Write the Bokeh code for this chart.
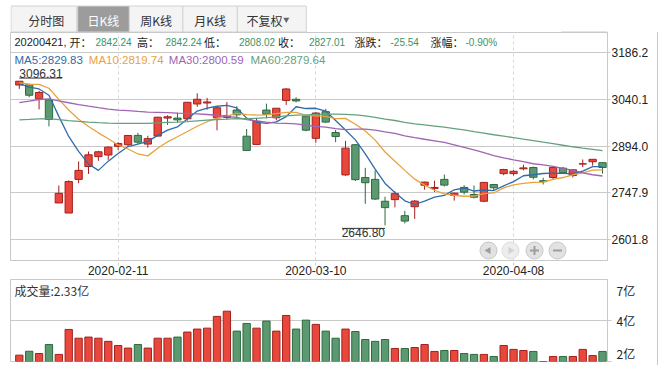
import numpy as np
import pandas as pd
from bokeh.plotting import figure
from bokeh.layouts import column
from bokeh.models import Range1d, FixedTicker, Label, ColumnDataSource
from bokeh.core.properties import value
from bokeh.embed import file_html
from bokeh.resources import INLINE

# ---------------- data ----------------
dates = ["2020-01-20", "2020-01-21", "2020-01-22", "2020-01-23",
         "2020-02-03", "2020-02-04", "2020-02-05", "2020-02-06", "2020-02-07",
         "2020-02-10", "2020-02-11", "2020-02-12", "2020-02-13", "2020-02-14",
         "2020-02-17", "2020-02-18", "2020-02-19", "2020-02-20", "2020-02-21",
         "2020-02-24", "2020-02-25", "2020-02-26", "2020-02-27", "2020-02-28",
         "2020-03-02", "2020-03-03", "2020-03-04", "2020-03-05", "2020-03-06",
         "2020-03-09", "2020-03-10", "2020-03-11", "2020-03-12", "2020-03-13",
         "2020-03-16", "2020-03-17", "2020-03-18", "2020-03-19", "2020-03-20",
         "2020-03-23", "2020-03-24", "2020-03-25", "2020-03-26", "2020-03-27",
         "2020-03-30", "2020-03-31", "2020-04-01", "2020-04-02", "2020-04-03",
         "2020-04-07", "2020-04-08", "2020-04-09", "2020-04-10",
         "2020-04-13", "2020-04-14", "2020-04-15", "2020-04-16", "2020-04-17",
         "2020-04-20", "2020-04-21"]

opens = [3084.0, 3085.0, 3041.0, 3038.0, 2716.70, 2685.27, 2790.0, 2830.0, 2861.0, 2866.0,
         2893.0, 2898.0, 2927.0, 2900.0, 2925.0, 2981.0, 2981.0, 2979.0, 3025.0, 3028.0,
         2982.0, 2983.0, 3006.0, 2924.6, 2899.0, 3006.0, 2982.0, 3036.0, 3039.5, 2987.0,
         2918.0, 3001.0, 2936.0, 2804.0, 2898.0, 2796.0, 2790.0, 2722.0, 2727.0, 2677.0,
         2705.0, 2772.0, 2762.0, 2790.0, 2740.0, 2765.0, 2743.0, 2722.0, 2774.0, 2808.0,
         2808.0, 2823.0, 2827.0, 2786.0, 2796.0, 2825.0, 2802.0, 2838.0, 2845.0, 2842.24]
highs = [3096.31, 3088.0, 3066.0, 3040.0, 2771.0, 2787.0, 2846.0, 2877.0, 2879.0, 2893.0,
         2906.0, 2927.5, 2935.0, 2926.0, 2985.0, 2990.0, 2998.0, 3031.0, 3058.0, 3044.0,
         3016.0, 3031.0, 3018.0, 2947.0, 2982.0, 3026.0, 3012.5, 3074.5, 3046.0, 2989.5,
         3000.0, 3010.0, 2944.0, 2910.0, 2900.0, 2826.0, 2818.0, 2736.0, 2753.0, 2692.0,
         2726.0, 2783.0, 2786.0, 2805.0, 2749.0, 2772.0, 2771.0, 2782.0, 2776.0, 2823.0,
         2819.0, 2836.0, 2830.0, 2795.0, 2827.5, 2829.0, 2821.0, 2852.0, 2853.0, 2842.24]
lows = [3072.0, 3046.0, 3008.0, 2955.34, 2716.70, 2685.27, 2778.0, 2807.0, 2848.0, 2851.0,
        2882.0, 2894.0, 2900.0, 2889.0, 2924.0, 2960.0, 2967.0, 2973.0, 3016.0, 3007.0,
        2943.0, 2976.0, 2978.0, 2878.0, 2897.0, 2980.0, 2974.0, 3022.0, 3030.0, 2940.0,
        2904.0, 2966.0, 2906.0, 2801.0, 2785.0, 2714.0, 2726.0, 2646.80, 2703.0, 2653.0,
        2667.0, 2758.0, 2751.0, 2768.0, 2724.0, 2743.0, 2731.0, 2719.0, 2754.0, 2803.0,
        2802.0, 2818.0, 2790.0, 2774.0, 2790.0, 2807.0, 2796.0, 2828.0, 2833.0, 2808.02]
closes = [3095.79, 3052.14, 3060.75, 2976.53, 2746.61, 2783.29, 2818.09, 2866.51, 2875.96, 2890.49,
          2901.67, 2926.90, 2906.07, 2917.01, 2983.62, 2984.97, 2975.40, 3030.15, 3039.67, 3031.23,
          3013.05, 2987.93, 2991.33, 2880.30, 2970.93, 2992.90, 3011.67, 3071.68, 3034.51, 2943.29,
          2996.76, 2968.52, 2923.49, 2887.43, 2789.25, 2779.64, 2728.76, 2702.13, 2745.62, 2660.17,
          2722.44, 2781.59, 2764.91, 2772.20, 2747.21, 2750.30, 2734.52, 2780.64, 2763.99, 2820.76,
          2815.37, 2825.90, 2796.63, 2783.05, 2827.28, 2811.17, 2819.94, 2838.49, 2852.55, 2827.01]
# volume, 亿
volumes = [2.13, 2.34, 2.22, 2.70, 2.17, 3.51, 3.04, 3.10, 3.04, 2.87,
           2.65, 2.51, 2.70, 2.51, 3.04, 3.04, 3.10, 3.37, 3.53, 3.58,
           4.21, 4.49, 3.42, 3.83, 3.58, 3.96, 3.42, 4.26, 3.53, 4.01,
           3.78, 3.42, 3.04, 3.53, 3.40, 2.97, 2.87, 2.97, 2.49, 2.49,
           2.54, 2.70, 2.33, 2.38, 2.38, 2.22, 2.17, 2.17, 2.06, 2.65,
           2.44, 2.38, 2.33, 1.79, 2.06, 2.06, 2.06, 2.44, 2.11, 2.33]
# closes of the 59 sessions before the first shown day (2019-10-28 .. 2020-01-17), for the moving averages
prior_closes = [2980.05, 2954.18, 2939.32, 2929.06,
                2958.20, 2975.49, 2991.56, 2978.60, 2978.71, 2964.18, 2909.97, 2914.82, 2905.24, 2909.87,
                2891.34, 2909.20, 2933.99, 2911.05, 2903.64, 2885.29, 2906.17, 2907.06, 2903.19, 2889.69, 2871.98,
                2875.81, 2884.70, 2878.12, 2899.47, 2912.01, 2914.48, 2917.32, 2924.42, 2915.70, 2967.68,
                2984.39, 3022.42, 3017.04, 3017.07, 3004.94, 2962.75, 2982.68, 2981.88, 3007.35, 3005.04,
                3040.02, 3050.12,
                3085.20, 3083.79, 3083.41, 3104.80, 3066.89, 3094.88, 3092.29, 3115.57, 3106.82, 3090.04,
                3074.08, 3075.50]
ma_periods = [5, 10, 30, 60]

price_ticks = [2601.8, 2747.9, 2894.0, 3040.1, 3186.2]
price_tick_labels = ["2601.8", "2747.9", "2894.0", "3040.1", "3186.2"]
date_tick_labels = ["2020-02-11", "2020-03-10", "2020-04-08"]
vol_tick_labels = ["7亿", "4亿", "2亿"]
vol_grid_value = 4.0
tab_labels = ["分时图", "日K线", "周K线", "月K线", "不复权"]

# ---------------- styles / layout constants ----------------
RED, RED_D = "#e8483c", "#a3201e"
GREEN, GREEN_D = "#5b9970", "#2e6a3f"
GRID = "#c9c9c9"
TXT = "#222222"
VALG = "#3b9463"
MA_COLORS = ["#2f6ca8", "#e9a23b", "#a064b4", "#64a27f"]
CJK = "Noto Sans CJK SC"
LAT = "Liberation Sans"

W = 658
FL, FR = 10, 607          # frame left/right (page px)
PT, PB = 32, 260          # price frame top/bottom (page px)
VT, VB = 279, 361         # volume frame top/bottom (page px)
PX_PER_DAY = 9.885
X0 = -(18.8 - FL) / PX_PER_DAY
X1 = X0 + (FR - FL) / PX_PER_DAY
YT, YB = 3247.6, 2537.4
VL = min(volumes)
VH = 6.19
PRICE_PER_PX = (YT - YB) / (PB - PT)


def px_x(px):
    return X0 + (px - FL) / PX_PER_DAY


def py_price(py):
    return YT - (py - PT) * PRICE_PER_PX


def py_vol(py):
    return VH - (py - VT) * (VH - VL) / (VB - VT)


# ---------------- derived ----------------
n = len(dates)
x = np.arange(n)
o = np.array(opens); h = np.array(highs); l = np.array(lows); c = np.array(closes)
up = c >= o
allc = pd.Series(prior_closes + closes)
mas = [allc.rolling(k).mean().iloc[len(prior_closes):].to_numpy() for k in ma_periods]

src = ColumnDataSource(dict(
    x=x, top=np.maximum(o, c), bottom=np.minimum(o, c), high=h, low=l,
    fill=[RED if u else GREEN for u in up], line=[RED_D if u else GREEN_D for u in up],
    vol=volumes))

xr = Range1d(X0, X1)

# ---------------- tabs ----------------
tabs = figure(width=W, height=PT, x_range=Range1d(0, W), y_range=Range1d(0, PT),
              toolbar_location=None, output_backend="svg",
              x_axis_location=None, y_axis_location=None, min_border=0)
tabs.xgrid.visible = False
tabs.ygrid.visible = False
tabs.outline_line_color = None
tab_l = [0.5, 74, 131, 190, 250]
tab_r = [73, 131, 190, 250, 326]
tabs.quad(left=tab_l, right=tab_r, bottom=0.5, top=PT - 5.5,
          fill_color=["#f4f4f4", "#9c9c9c", "#f4f4f4", "#f4f4f4", "#f4f4f4"], line_color="#d2d2d2")
tab_cx = [39.5, 102.5, 160.5, 220, 280]
tabs.text(x=tab_cx, y=[PT - 19.5] * 5, text=tab_labels, text_align="center",
          text_baseline="middle", text_font=value(CJK), text_font_size="12px",
          text_color=["#333333", "#ffffff", "#333333", "#333333", "#333333"])
tabs.scatter(x=[304], y=[PT - 19], marker="inverted_triangle", size=6, fill_color="#666666", line_color=None)
tabs.segment(x0=[FR], y0=[0.5], x1=[W], y1=[0.5], line_color=GRID)

# ---------------- price ----------------
p = figure(width=W, height=VT - PT, x_range=xr, y_range=Range1d(YB, YT),
           toolbar_location=None, output_backend="svg",
           x_axis_location="below", y_axis_location="right",
           min_border_left=FL, min_border_right=W - FR, min_border_top=0, min_border_bottom=VT - PB)
p.outline_line_color = GRID
p.styles = {"border-right": "1px solid #c9c9c9"}

ya = p.yaxis[0]
ya.ticker = FixedTicker(ticks=price_ticks)
ya.major_label_overrides = dict(zip(price_ticks, price_tick_labels))
ya.axis_line_color = GRID
ya.major_tick_line_color = GRID
ya.major_tick_out = 3
ya.major_tick_in = 0
ya.minor_tick_line_color = None
ya.major_label_standoff = 1
ya.major_label_text_font = LAT
ya.major_label_text_font_size = "12px"
ya.major_label_text_color = TXT

date_ticks = [dates.index(d) for d in date_tick_labels]
xa = p.xaxis[0]
xa.ticker = FixedTicker(ticks=date_ticks)
xa.major_label_overrides = dict(zip(date_ticks, date_tick_labels))
xa.axis_line_color = GRID
xa.major_tick_line_color = "#d0d0d0"
xa.major_tick_line_dash = "3 3"
xa.major_tick_out = 5
xa.major_tick_in = 0
xa.minor_tick_line_color = None
xa.major_label_standoff = 0
xa.major_label_text_font = LAT
xa.major_label_text_font_size = "12px"
xa.major_label_text_color = TXT

p.ygrid.grid_line_color = GRID
p.xgrid.grid_line_color = "#d6d6d6"
p.xgrid.grid_line_dash = "3 3"

p.segment(x0="x", y0="low", x1="x", y1="high", line_color="line", line_width=1, source=src)
p.vbar(x="x", top="top", bottom="bottom", width=0.74, fill_color="fill", line_color="line",
       line_width=1, source=src)
for ma, col in zip(mas, MA_COLORS):
    p.line(x, ma, line_color=col, line_width=1.3)

# highest / lowest markers (drawn 3 px away from the extreme)
MARK_LEN = 43 / PX_PER_DAY
MARK_GAP = 3 * PRICE_PER_PX
imax = int(np.argmax(h)); imin = int(np.argmin(l))
ymx = h[imax] + MARK_GAP
ymn = l[imin] - MARK_GAP
p.segment(x0=[imax], y0=[ymx], x1=[imax + MARK_LEN], y1=[ymx], line_color="#333333", line_width=1)
p.text(x=[imax], y=[ymx], text=[f"{h[imax]:.2f}"], text_align="left", text_baseline="bottom",
       text_font=value(LAT), text_font_size="12px", text_color="#333333")
p.segment(x0=[imin - MARK_LEN], y0=[ymn], x1=[imin], y1=[ymn], line_color="#333333", line_width=1)
p.text(x=[imin], y=[ymn], text=[f"{l[imin]:.2f}"], text_align="right", text_baseline="top",
       text_font=value(LAT), text_font_size="12px", text_color="#333333")

# header line: (page x, text, colour, font, size)
chg = c[-1] - c[-2]
pct = chg / c[-2] * 100
hdr = [(14, f"{dates[-1].replace('-', '')},", TXT, LAT, "11px"), (69, "开：", TXT, CJK, "11px"),
       (95, f"{o[-1]:.2f}", VALG, LAT, "10px"),
       (136.5, "高：", TXT, CJK, "11px"), (165, f"{h[-1]:.2f}", VALG, LAT, "10px"),
       (203.5, "低：", TXT, CJK, "11px"), (238.5, f"{l[-1]:.2f}", VALG, LAT, "10px"),
       (277.5, "收：", TXT, CJK, "11px"), (308.5, f"{c[-1]:.2f}", VALG, LAT, "10px"),
       (354, "涨跌：", TXT, CJK, "11px"), (390, f"{chg:.2f}", VALG, LAT, "10px"),
       (430, "涨幅：", TXT, CJK, "11px"), (465, f"{pct:.2f}%", VALG, LAT, "10px")]
for px, t, col, fnt, fs in hdr:
    p.add_layout(Label(x=px_x(px), y=py_price(41.5), text=t, text_font=fnt, text_font_size=fs,
                       text_color=col, text_baseline="middle", text_align="left"))
leg_px = [14, 88.3, 168.3, 250]
for px, k, ma, col in zip(leg_px, ma_periods, mas, MA_COLORS):
    p.add_layout(Label(x=px_x(px), y=py_price(59.5), text=f"MA{k}:{ma[-1]:.2f}", text_font=LAT,
                       text_font_size="11.5px", text_color=col, text_baseline="middle", text_align="left"))

# navigation buttons
bx = [px_x(v) for v in (488, 510, 534, 557)]
by = py_price(250)
p.scatter(bx, [by] * 4, marker="circle", size=17,
          fill_color=["#e2e2e2", "#ededed", "#e2e2e2", "#e2e2e2"],
          line_color=["#c6c6c6", "#dcdcdc", "#c6c6c6", "#c6c6c6"])
p.scatter([bx[0]], [by], marker="triangle", angle=np.pi / 2, size=7, fill_color="#9d9d9d", line_color=None)
p.scatter([bx[1]], [by], marker="triangle", angle=-np.pi / 2, size=7, fill_color="#d2d2d2", line_color=None)
p.scatter([bx[2]], [by], marker="cross", size=9, line_color="#9d9d9d", line_width=2)
p.scatter([bx[3]], [by], marker="dash", size=9, line_color="#9d9d9d", line_width=2)

# ---------------- volume ----------------
v = figure(width=W, height=365 - VT, x_range=xr, y_range=Range1d(VL, VH),
           toolbar_location=None, output_backend="svg",
           x_axis_location=None, y_axis_location="right",
           min_border_left=FL, min_border_right=W - FR, min_border_top=0, min_border_bottom=365 - VB)
v.outline_line_color = GRID
v.styles = {"border-right": "1px solid #c9c9c9"}
vol_label_pos = [py_vol(290), vol_grid_value, py_vol(353)]
va = v.yaxis[0]
va.ticker = FixedTicker(ticks=vol_label_pos, minor_ticks=[VL, vol_grid_value])
va.major_label_overrides = dict(zip(vol_label_pos, vol_tick_labels))
va.axis_line_color = GRID
va.major_tick_line_color = None
va.minor_tick_line_color = GRID
va.minor_tick_out = 4
va.minor_tick_in = 0
va.major_label_standoff = 3
va.major_label_text_font = CJK
va.major_label_text_font_size = "12px"
va.major_label_text_color = TXT
v.xgrid.visible = False
v.ygrid.ticker = FixedTicker(ticks=[vol_grid_value])
v.ygrid.grid_line_color = GRID

v.vbar(x="x", top="vol", bottom=VL, width=0.74, fill_color="fill", line_color="line", line_width=1, source=src)
v.add_layout(Label(x=px_x(14), y=py_vol(290), text=f"成交量:{volumes[-1]:.2f}亿", text_font=CJK,
                   text_font_size="12px", text_color="#333333", text_baseline="middle", text_align="left"))

layout = column(tabs, p, v)
open("out.html", "w").write(file_html(layout, INLINE))
